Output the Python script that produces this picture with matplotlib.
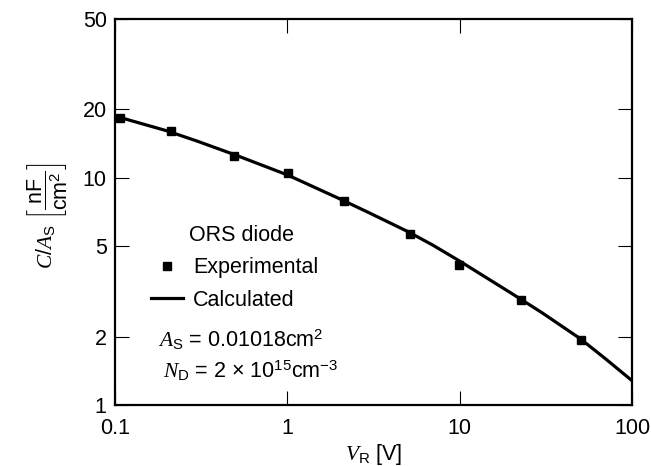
import matplotlib
matplotlib.use('Agg')
import matplotlib.pyplot as plt
from matplotlib.ticker import FixedLocator, FixedFormatter, NullLocator

plt.rcParams['font.family'] = ['Liberation Sans', 'DejaVu Sans']
plt.rcParams['mathtext.fontset'] = 'custom'
plt.rcParams['mathtext.rm'] = 'Liberation Sans'
plt.rcParams['mathtext.it'] = 'Liberation Serif:italic'
plt.rcParams['mathtext.bf'] = 'Liberation Sans:bold'

# measured points
v_exp = [0.107, 0.211, 0.49, 1.01, 2.14, 5.15, 9.96, 22.6, 50.6]
c_exp = [18.4, 16.0, 12.5, 10.5, 7.94, 5.66, 4.15, 2.89, 1.93]

# calculated curve
v_calc = [0.1, 0.2, 0.3, 0.5, 1, 2, 3, 5, 7, 10, 20, 30, 50, 70, 100]
c_calc = [18.7, 16.1, 14.5, 12.6, 10.3, 8.1, 7.0, 5.8, 5.05, 4.3, 3.1, 2.55, 1.96, 1.60, 1.28]

x_ticks = [0.1, 1, 10, 100]
x_labels = ['0.1', '1', '10', '100']
y_ticks = [1, 2, 5, 10, 20, 50]
y_labels = ['1', '2', '5', '10', '20', '50']

FS = 15.5


def main():
    fig = plt.figure(figsize=(6.51, 4.66), dpi=100)
    ax = fig.add_axes([0.1767, 0.1309, 0.7941, 0.8283])

    ax.plot(v_calc, c_calc, color='black', lw=2.3, label='Calculated')
    ax.plot(v_exp, c_exp, ls='none', marker='s', ms=6, color='black',
            label='Experimental')

    ax.set_xscale('log')
    ax.set_yscale('log')
    ax.set_xlim(0.1, 100)
    ax.set_ylim(1, 50)

    ax.xaxis.set_major_locator(FixedLocator(x_ticks))
    ax.xaxis.set_major_formatter(FixedFormatter(x_labels))
    ax.yaxis.set_major_locator(FixedLocator(y_ticks))
    ax.yaxis.set_major_formatter(FixedFormatter(y_labels))
    ax.xaxis.set_minor_locator(NullLocator())
    ax.yaxis.set_minor_locator(NullLocator())
    ax.tick_params(direction='in', length=10, width=0.8, labelsize=FS,
                   top=True, right=True)
    ax.tick_params(axis='x', pad=9)
    ax.tick_params(axis='y', pad=6)
    for s in ax.spines.values():
        s.set_linewidth(1.6)

    ax.set_xlabel(r'$\mathit{V}_\mathrm{R}$ [V]', fontsize=FS)
    ax.xaxis.set_label_coords(0.5, -0.095)
    ax.set_ylabel(r'$\mathit{C/A}_\mathrm{S}\ \left[\dfrac{\mathrm{nF}}{\mathrm{cm}^2}\right]$',
                  fontsize=FS)
    ax.yaxis.set_label_coords(-0.09, 0.49)

    handles, labels = ax.get_legend_handles_labels()
    ax.legend(handles[::-1], labels[::-1],
              loc='upper left', bbox_to_anchor=(0.04, 0.422),
              frameon=False, fontsize=FS,
              handlelength=1.5, handletextpad=0.45, labelspacing=0.55,
              borderpad=0.2, numpoints=1)
    ax.text(0.245, 0.44, 'ORS diode', transform=ax.transAxes,
            fontsize=FS, ha='center', va='center')

    ax.text(0.083, 0.168, r'$\mathit{A}_\mathrm{S}$ = 0.01018cm$^2$',
            transform=ax.transAxes, fontsize=FS, va='center')
    ax.text(0.093, 0.09, r'$\mathit{N}_\mathrm{D}$ = 2 $\times$ 10$^{15}$cm$^{-3}$',
            transform=ax.transAxes, fontsize=FS, va='center')

    fig.savefig('out.png', dpi=100)


if __name__ == "__main__":
    main()
